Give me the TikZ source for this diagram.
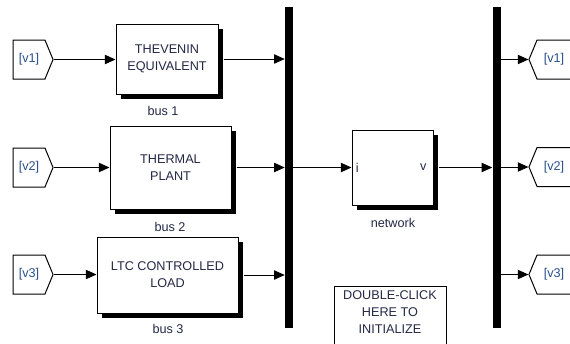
\documentclass[tikz,border=0pt]{standalone}
\usepackage{fontspec}
\setmainfont{Liberation Sans}
\usetikzlibrary{arrows.meta,shapes.symbols,shadows}
\definecolor{txt}{RGB}{35,40,70}
\definecolor{tagtxt}{RGB}{40,80,140}
\begin{document}
\begin{tikzpicture}[x=0.75pt,y=-0.75pt,
  font=\fontsize{9.5pt}{12.75pt}\selectfont,
  wire/.style={line width=0.75pt,-{Triangle[length=8pt,width=7pt]}},
  blk/.style={draw,line width=0.75pt,fill=white,align=center,text=txt,inner sep=0pt,
    drop shadow={shadow xshift=3.75pt,shadow yshift=-3.75pt,fill=black,opacity=1}},
  tagL/.style={draw,line width=0.75pt,shape=signal,signal to=east,signal from=nothing,
    signal pointer angle=135,minimum width=30pt,minimum height=29.25pt,inner sep=0pt,text=tagtxt},
  tagR/.style={draw,line width=0.75pt,shape=signal,signal to=west,signal from=nothing,
    signal pointer angle=135,minimum width=31.5pt,minimum height=29.25pt,inner sep=0pt,text=tagtxt},
  barst/.style={fill=black,inner sep=0pt,minimum width=6pt,minimum height=240.75pt},
  lbl/.style={text=txt,inner sep=0pt}]
\useasboundingbox (0,0) rectangle (570,343);
\clip (0,0) rectangle (570,343);

% buses
\node[barst] (bar1) at (289,167.5) {};
\node[barst] (bar2) at (496.5,167.5) {};

% left tags
\node[tagL] (t1) at (29,59.5) {[v1]};
\node[tagL] (t2) at (29,167.5) {[v2]};
\node[tagL] (t3) at (29,274.5) {[v3]};

% blocks
\node[blk,minimum width=76.5pt,minimum height=52.5pt] (b1) at (167,59) {THEVENIN\\EQUIVALENT};
\node[blk,minimum width=90.75pt,minimum height=62.25pt] (b2) at (170.5,167.5) {THERMAL\\PLANT};
\node[blk,minimum width=105.75pt,minimum height=57pt] (b3) at (167.5,275) {LTC CONTROLLED\\LOAD};
\node[lbl] (l1) at (163,111) {bus 1};
\node[lbl] (l2) at (170,227) {bus 2};
\node[lbl] (l3) at (168,329) {bus 3};

% network
\node[blk,minimum width=60.75pt,minimum height=56.25pt] (net) at (392.5,167.5) {};
\node[lbl,anchor=west] (pi) at ([xshift=3pt]net.west) {i};
\node[lbl,anchor=east] (pv) at ([xshift=-5pt]net.east) {v};
\node[lbl] (nl) at (393,223) {network};

% right tags
\node[tagR] (r1) at (554,59.5) {[v1]};
\node[tagR] (r2) at (554,167) {[v2]};
\node[tagR] (r3) at (554,274.5) {[v3]};

% init box
\node[draw,line width=0.75pt,anchor=north,minimum width=84pt,minimum height=50pt,
  text=txt,align=center,inner sep=0pt,text depth=0pt] (init) at (390,286) {};
\node[lbl,align=center,anchor=north] (it) at (390,290) {DOUBLE-CLICK\\HERE TO\\INITIALIZE};

% wires
\draw[wire] (t1.east) -- (b1.west |- t1.east);
\draw[wire] (t2.east) -- (b2.west |- t2.east);
\draw[wire] (t3.east) -- (b3.west |- t3.east);
\draw[wire] ([xshift=3.75pt]b1.east) -- (bar1.west |- b1.east);
\draw[wire] ([xshift=3.75pt]b2.east) -- (bar1.west |- b2.east);
\draw[wire] ([xshift=3.75pt]b3.east) -- (bar1.west |- b3.east);
\draw[wire] (bar1.east |- net.west) -- (net.west);
\draw[wire] ([xshift=3.75pt]net.east) -- (bar2.west |- net.east);
\draw[wire] (bar2.east |- r1.west) -- (r1.west);
\draw[wire] (bar2.east |- r2.west) -- (r2.west);
\draw[wire] (bar2.east |- r3.west) -- (r3.west);
\end{tikzpicture}
\end{document}
